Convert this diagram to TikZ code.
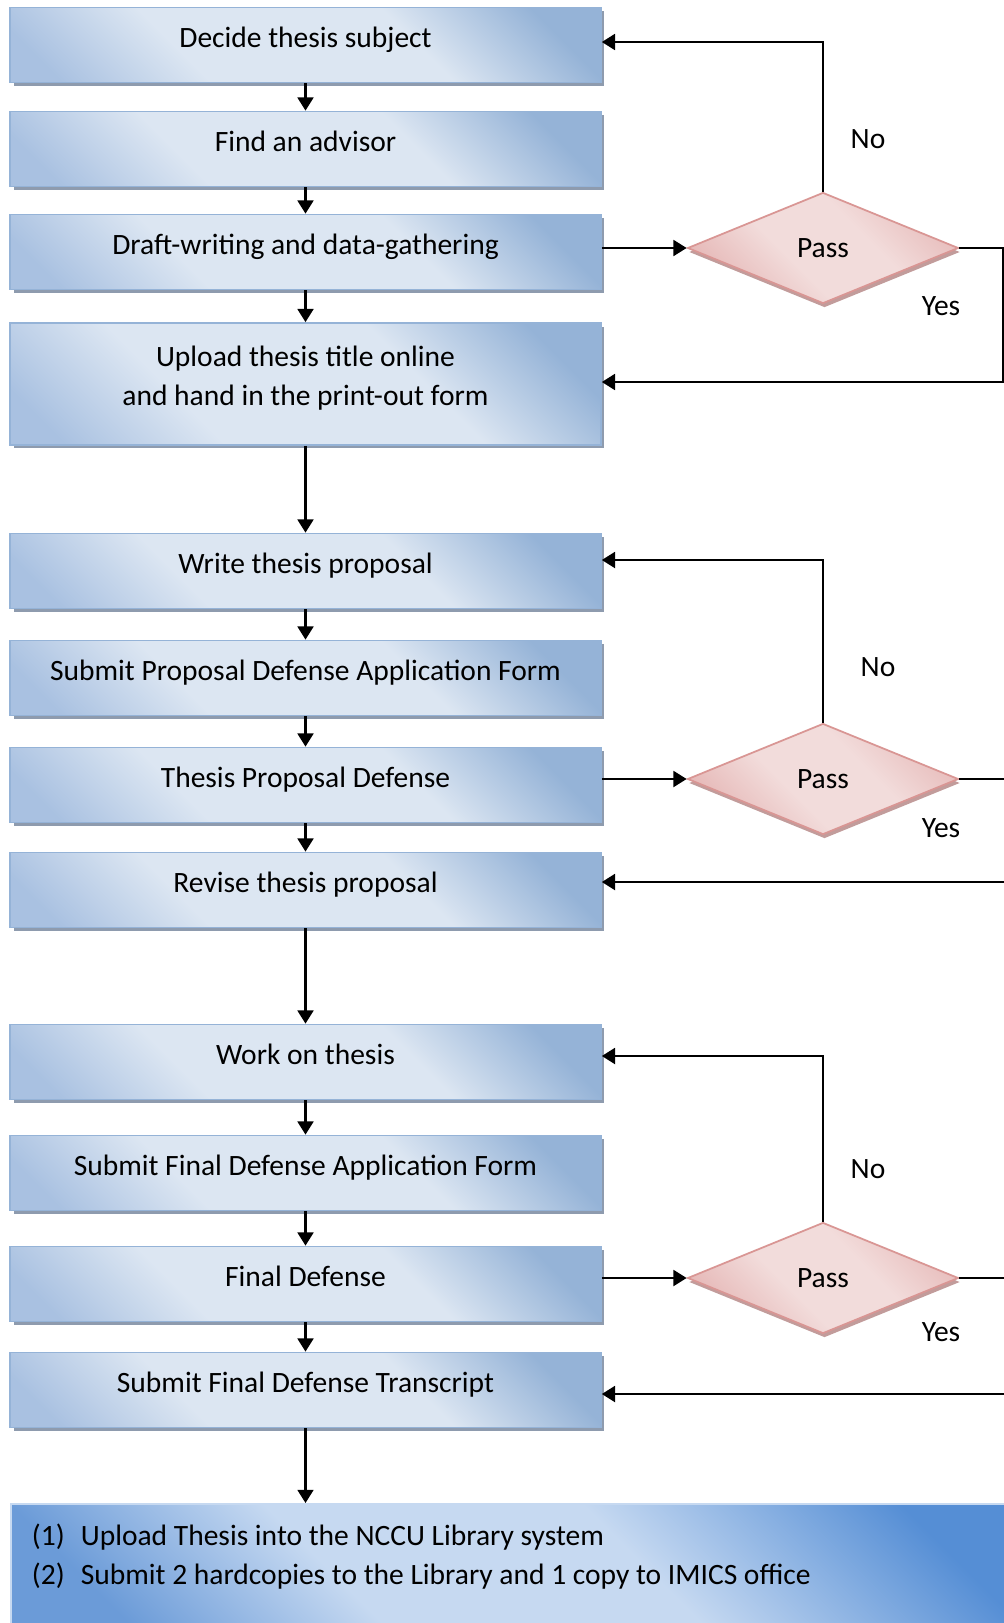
\documentclass[tikz,border=0pt]{standalone}
\usepackage{fontspec}
\setmainfont{Carlito}
\usepackage{tikz}
\usetikzlibrary{shapes.geometric,shadows,arrows.meta}
\definecolor{boxdark}{HTML}{95B3D7}
\definecolor{boxlight}{HTML}{DCE6F2}
\definecolor{boxmid}{HTML}{A9C1E1}
\definecolor{boxline}{HTML}{95B3D7}
\definecolor{boxshadow}{HTML}{8E9BAE}
\definecolor{pinkdark}{HTML}{E6B9B8}
\definecolor{pinklight}{HTML}{F2DCDB}
\definecolor{pinkline}{HTML}{D99694}
\definecolor{pinkshadow}{HTML}{C29C9B}
\definecolor{bluedark}{HTML}{558ED5}
\definecolor{bluemid}{HTML}{6B9BD8}
\definecolor{bluelight}{HTML}{C6D9F1}
\pgfdeclareverticalshading{taskshade}{100bp}{color(0bp)=(boxmid); color(20bp)=(boxmid);
  color(36bp)=(boxlight); color(62bp)=(boxlight); color(78bp)=(boxdark); color(100bp)=(boxdark)}
\pgfdeclareverticalshading{testshade}{100bp}{color(0bp)=(pinkdark); color(25bp)=(pinkdark);
  color(42bp)=(pinklight); color(60bp)=(pinklight); color(78bp)=(pinkdark); color(100bp)=(pinkdark)}
\pgfdeclareverticalshading{noteshade}{100bp}{color(0bp)=(bluemid); color(22bp)=(bluemid);
  color(38bp)=(bluelight); color(58bp)=(bluelight); color(78bp)=(bluedark); color(100bp)=(bluedark)}
\tikzset{every node/.style={font=\fontsize{16.8}{22}\selectfont},
  task/.style={draw=boxline,line width=1pt,shading=taskshade,shading angle=-45,
    minimum width=11.82cm,minimum height=1.5cm,inner sep=0pt,text height=0.08cm,text depth=0pt,
    drop shadow={shadow xshift=0.07cm,shadow yshift=-0.07cm,fill=boxshadow,opacity=1}},
  test/.style={shape=diamond,draw=pinkline,line width=1pt,shading=testshade,shading angle=-45,
    minimum width=5.42cm,minimum height=2.22cm,inner sep=0pt,
    drop shadow={shadow xshift=0.03cm,shadow yshift=-0.08cm,fill=pinkshadow,opacity=1}},
  note/.style={draw=bluelight,line width=1pt,shading=noteshade,shading angle=-45,
    minimum width=20.2cm,minimum height=2.44cm,inner xsep=0.42cm,inner ysep=0pt,
    text height=0pt,text depth=0pt},
  flow/.style={line width=1.4pt,-{Triangle[width=9pt,length=7.5pt]}}}

\begin{document}
\begin{tikzpicture}[x=0.02cm,y=-0.02cm]
\useasboundingbox (0,0) rectangle (1004,1623);
% steps
\node[task] (subject) at (305.5,45) {Decide thesis subject};
\node[task] (advisor) at (305.5,149) {Find an advisor};
\node[task] (draft) at (305.5,252) {Draft-writing and data-gathering};
\node[task,minimum height=2.44cm] (upload) at (305.5,384)
  {\begin{tabular}{@{}c@{}}Upload thesis title online\\and hand in the print-out form\end{tabular}};
\node[task] (proposal) at (305.5,571) {Write thesis proposal};
\node[task] (propform) at (305.5,678) {Submit Proposal Defense Application Form};
\node[task] (propdef) at (305.5,785) {Thesis Proposal Defense};
\node[task] (revise) at (305.5,890) {Revise thesis proposal};
\node[task] (work) at (305.5,1062) {Work on thesis};
\node[task] (finalform) at (305.5,1173) {Submit Final Defense Application Form};
\node[task] (finaldef) at (305.5,1284) {Final Defense};
\node[task] (transcript) at (305.5,1390) {Submit Final Defense Transcript};
\node[note,anchor=north west] (library) at (10,1503)
  {\makebox[19.36cm][l]{\begin{tabular}{@{}l@{}}
    \makebox[0.98cm][l]{(1)}Upload Thesis into the NCCU Library system\\
    \makebox[0.98cm][l]{(2)}Submit 2 hardcopies to the Library and 1 copy to IMICS office
  \end{tabular}}};
% checks
\node[test] (pass1) at (823,248) {Pass};
\node[test] (pass2) at (823,779) {Pass};
\node[test] (pass3) at (823,1278) {Pass};
\node (no1) at (868,139) {No};
\node (yes1) at (941,306) {Yes};
\node (no2) at (878,667) {No};
\node (yes2) at (941,828) {Yes};
\node (no3) at (868,1169) {No};
\node (yes3) at (941,1332) {Yes};
% main line
\draw[flow] (subject) -- (advisor);
\draw[flow] (advisor) -- (draft);
\draw[flow] (draft) -- (upload);
\draw[flow] (upload) -- (proposal);
\draw[flow] (proposal) -- (propform);
\draw[flow] (propform) -- (propdef);
\draw[flow] (propdef) -- (revise);
\draw[flow] (revise) -- (work);
\draw[flow] (work) -- (finalform);
\draw[flow] (finalform) -- (finaldef);
\draw[flow] (finaldef) -- (transcript);
\draw[flow] (transcript) -- (transcript |- library.north);
% loops
\coordinate (back1) at (1003,382);
\coordinate (back2) at (1012,882);
\coordinate (back3) at (1012,1394);
\draw[flow] (draft.east |- pass1) -- (pass1);
\draw[flow] (pass1.north) |- ([yshift=0.06cm]subject.east);
\draw[flow] (pass1.east) -| (back1) -- (upload.east |- back1);
\draw[flow] (propdef.east |- pass2) -- (pass2);
\draw[flow] (pass2.north) |- ([yshift=0.22cm]proposal.east);
\draw[flow] (pass2.east) -| (back2) -- (revise.east |- back2);
\draw[flow] (finaldef.east |- pass3) -- (pass3);
\draw[flow] (pass3.north) |- ([yshift=0.12cm]work.east);
\draw[flow] (pass3.east) -| (back3) -- (transcript.east |- back3);
\end{tikzpicture}
\end{document}
